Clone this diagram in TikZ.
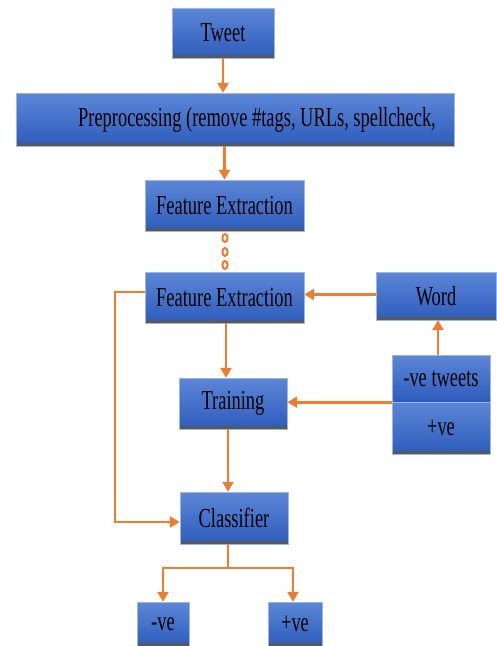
\documentclass[tikz,border=0pt]{standalone}
\usepackage{fontspec}
\setmainfont{Liberation Serif}[FakeStretch=0.67]
\usepackage{tikz}
\usetikzlibrary{arrows.meta}

\definecolor{boxtop}{HTML}{5C86D6}
\definecolor{boxbot}{HTML}{2D5CBC}
\definecolor{barcol}{HTML}{555A60}
\definecolor{linkcol}{HTML}{ED7D31}

\begin{document}
\begin{tikzpicture}[x=1pt,y=-1pt,
    box/.style={rectangle,top color=boxtop,bottom color=boxbot,
      draw=boxtop!60!white,line width=0.4pt,inner sep=0pt,
      font=\fontsize{27.5}{30}\selectfont,text=black,
      path picture={\fill[barcol] (path picture bounding box.south west)
        rectangle ([yshift=3.5pt]path picture bounding box.south east);}},
    link/.style={linkcol,line width=2.6pt,-{Triangle[width=11pt,length=10pt]}},
    wire/.style={linkcol,line width=2.6pt},
    ring/.style={linkcol,line width=2pt}]
          \useasboundingbox (0,0) rectangle (496,646);
          % boxes
          \node[box,minimum width=102pt,minimum height=50pt] (tweet) %
          at (223,33) {Tweet};
          \node[box,minimum width=438pt,minimum height=53pt,%
            label={[font=\fontsize{27.5}{30}\selectfont,xshift=22pt]center:%
              Preprocessing (remove \#tags, URLs, spellcheck,}] (prep) %
          at (235,119.5) {};
          \node[box,minimum width=159pt,minimum height=51pt] (feat1) %
          at (224.5,205.5) {Feature Extraction};
          \node[box,minimum width=159pt,minimum height=51pt] (feat2) %
          at (224.5,297.5) {Feature Extraction};
          \node[box,minimum width=120pt,minimum height=48pt] (word) %
          at (436,296) {Word};
          \node[box,minimum width=108pt,minimum height=51pt] (train) %
          at (233,403.5) {Training};
          \node[box,minimum width=98pt,minimum height=47pt,%
            path picture={}] (negtw) %
          at (441,378.5) {-ve tweets};
          \node[box,minimum width=98pt,minimum height=52pt] (postw) %
          at (441,428) {+ve};
          \node[box,minimum width=108pt,minimum height=52pt] (clf) %
          at (234,518) {Classifier};
          \node[box,minimum width=52pt,minimum height=44pt] (neg) %
          at (163,624) {-ve};
          \node[box,minimum width=54pt,minimum height=44pt] (pos) %
          at (295,624) {+ve};
          % connectors
          \draw[link] (tweet.south) -- (tweet.south |- prep.north);
          \draw[link] ([xshift=1.5pt]prep.south -| tweet.south) -- %
            ([xshift=1.5pt]feat1.north -| tweet.south);
          \foreach \y in {238,252,265}
            \draw[ring] (225,\y) ellipse (2.6 and 4);
          \draw[link] ([yshift=1.5pt]word.west) -- ([yshift=1.5pt]word.west -| feat2.east);
          \draw[link] ([xshift=1.5pt]feat2.south) -- ([xshift=1.5pt]feat2.south |- train.north);
          \draw[link] (negtw.south west) -- (negtw.south west -| train.east);
          \draw[link] ([xshift=-3pt]negtw.north) -- ([xshift=-3pt]negtw.north |- word.south);
          \draw[link] ([yshift=5.5pt]feat2.west) -| ([yshift=-4pt]clf.west -| 115,0) -- %
            ([yshift=-4pt]clf.west);
          \draw[link] ([xshift=-5pt]train.south) -- ([xshift=-5pt]train.south |- clf.north);
          \coordinate (fork) at ([xshift=-6pt]clf.south |- 0,568);
          \draw[wire] ([xshift=-6pt]clf.south) -- (fork);
          \draw[link] (fork) -| (neg.north);
          \draw[link] (fork) -| ([xshift=-2pt]pos.north);
        \end{tikzpicture}
\end{document}
